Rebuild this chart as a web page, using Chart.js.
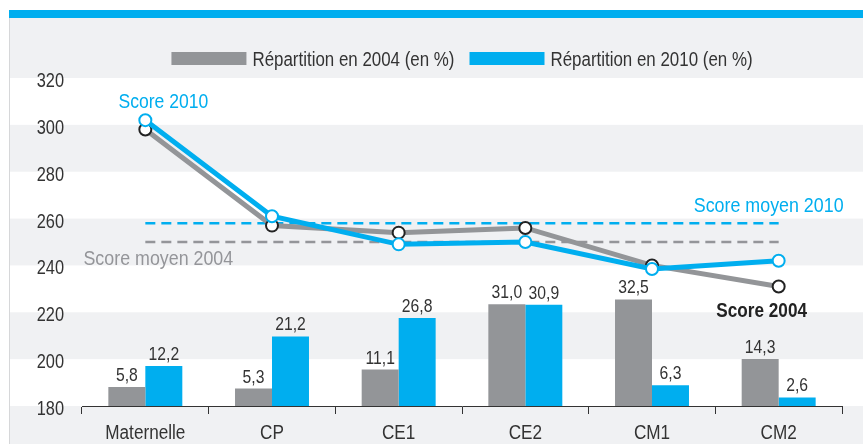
<!DOCTYPE html>
<html>
<head>
<meta charset="utf-8">
<script src="https://cdn.jsdelivr.net/npm/chart.js@4.4.1/dist/chart.umd.min.js"></script>
<style>
html,body{margin:0;padding:0;background:#fff;overflow:hidden;}
canvas{display:block;}
</style>
</head>
<body>
<canvas id="c" width="863" height="444"></canvas>
<script>
const categories = ['Maternelle', 'CP', 'CE1', 'CE2', 'CM1', 'CM2'];
const repartition2004 = [5.8, 5.3, 11.1, 31.0, 32.5, 14.3];
const repartition2010 = [12.2, 21.2, 26.8, 30.9, 6.3, 2.6];
const score2004 = [298, 257, 254, 256, 240, 231];
const score2010 = [302, 261, 249, 250, 238.5, 242];
const scoreMoyen2004 = [250, 250, 250, 250, 250, 250];
const scoreMoyen2010 = [258, 258, 258, 258, 258, 258];
const legendLabels = ['Répartition en 2004 (en %)', 'Répartition en 2010 (en %)'];
const scoreMin = 180, scoreMax = 320, scoreStep = 20;

const FONT = "'Liberation Sans', Arimo, Arial, sans-serif";
const GREY = '#939598';
const BLUE = '#00aeef';
const TEXT = '#333333';

// draw horizontally condensed text (emulates a condensed typeface)
function ctext(ctx, str, x, y, o) {
  ctx.save();
  ctx.font = (o.weight || 'normal') + ' ' + o.size + 'px ' + FONT;
  ctx.fillStyle = o.color || TEXT;
  ctx.textAlign = o.align || 'center';
  ctx.textBaseline = o.baseline || 'alphabetic';
  ctx.translate(x, y);
  ctx.scale(o.sx || 0.86, 1);
  ctx.fillText(str, 0, 0);
  const w = ctx.measureText(str).width * (o.sx || 0.86);
  ctx.restore();
  return w;
}
function cwidth(ctx, str, o) {
  ctx.save();
  ctx.font = (o.weight || 'normal') + ' ' + o.size + 'px ' + FONT;
  const w = ctx.measureText(str).width * (o.sx || 0.86);
  ctx.restore();
  return w;
}

const bgPlugin = {
  id: 'bg',
  beforeDraw(chart) {
    const {ctx, scales: {y}} = chart;
    const W = chart.width, H = chart.height;
    ctx.save();
    ctx.fillStyle = '#ffffff'; ctx.fillRect(0, 0, W, H);
    ctx.fillStyle = '#f0f1f3'; ctx.fillRect(9, 18, W - 9, H - 18);
    ctx.fillStyle = '#d6d7d9'; ctx.fillRect(9, 18, 1, H - 18);
    ctx.fillStyle = BLUE; ctx.fillRect(9, 10, W - 9, 8);
    ctx.fillStyle = '#ffffff';
    for (let v = scoreMax; v > scoreMin; v -= 2 * scoreStep) {
      const t = y.getPixelForValue(v), b = y.getPixelForValue(v - scoreStep);
      ctx.fillRect(10, t, W - 10, b - t);
    }
    ctx.restore();
  }
};

const fmt = v => v.toFixed(1).replace('.', ',');

const labelPlugin = {
  id: 'labels',
  afterDatasetsDraw(chart) {
    const {ctx, scales: {x, y}} = chart;
    // bar value labels
    [0, 1].forEach(di => {
      const meta = chart.getDatasetMeta(di);
      const data = chart.data.datasets[di].data;
      meta.data.forEach((el, i) => {
        ctext(ctx, fmt(data[i]), el.x, el.y - 6, {size: 18.5, sx: 0.85});
      });
    });
    // annotations
    ctext(ctx, 'Score 2010', x.getPixelForValue(0) + 18, y.getPixelForValue(310) + 7, {size: 19.5, sx: 0.9, color: BLUE});
    ctext(ctx, 'Score moyen 2010', x.getPixelForValue(5) - 10, y.getPixelForValue(265.8) + 7, {size: 19.5, sx: 0.915, color: BLUE});
    ctext(ctx, 'Score moyen 2004', x.getPixelForValue(0) + 13, y.getPixelForValue(243.2) + 7, {size: 19.5, sx: 0.915, color: '#949599'});
    ctext(ctx, 'Score 2004', x.getPixelForValue(5) - 17, y.getPixelForValue(221) + 7, {size: 19.5, sx: 0.88, color: '#222222', weight: 'bold'});
  },
  afterDraw(chart) {
    const {ctx, chartArea, scales: {x, y}} = chart;
    // axis tick labels
    y.ticks.forEach(t => {
      ctext(ctx, String(t.value), chartArea.left - 18, y.getPixelForValue(t.value) + 9, {size: 19.5, sx: 0.84, align: 'right'});
    });
    categories.forEach((c, i) => {
      ctext(ctx, c, x.getPixelForValue(i), 439, {size: 19.5, sx: 0.88});
    });
    // legend
    const lo = {size: 19.5, sx: 0.867, align: 'left'};
    const boxW = 75, boxH = 13, gapT = 6, gapI = 15;
    const colors = [GREY, BLUE];
    const widths = legendLabels.map(l => cwidth(ctx, l, lo));
    const total = widths.reduce((a, w) => a + boxW + gapT + w, 0) + gapI;
    let xx = (chartArea.left + chartArea.right) / 2 - total / 2;
    const yc = 58.5;
    legendLabels.forEach((l, i) => {
      ctx.fillStyle = colors[i];
      ctx.fillRect(xx, yc - boxH / 2, boxW, boxH);
      ctext(ctx, l, xx + boxW + gapT, yc + 7, lo);
      xx += boxW + gapT + widths[i] + gapI;
    });
  }
};

new Chart(document.getElementById('c'), {
  type: 'bar',
  data: {
    labels: categories,
    datasets: [
      { type: 'bar', label: legendLabels[0], data: repartition2004, backgroundColor: GREY, yAxisID: 'y2', order: 10, categoryPercentage: 0.584, barPercentage: 1 },
      { type: 'bar', label: legendLabels[1], data: repartition2010, backgroundColor: BLUE, yAxisID: 'y2', order: 10, categoryPercentage: 0.584, barPercentage: 1 },
      { type: 'line', label: 'Score moyen 2004', data: scoreMoyen2004, borderColor: '#949599', borderWidth: 2.5, borderDash: [10, 6], pointRadius: 0, yAxisID: 'y', order: 5, fill: false },
      { type: 'line', label: 'Score moyen 2010', data: scoreMoyen2010, borderColor: BLUE, borderWidth: 2.5, borderDash: [10, 6], pointRadius: 0, yAxisID: 'y', order: 5, fill: false },
      { type: 'line', label: 'Score 2004', data: score2004, borderColor: GREY, borderWidth: 5, pointRadius: 6, pointBorderWidth: 2, pointBorderColor: '#222222', pointBackgroundColor: '#ffffff', yAxisID: 'y', order: 2, fill: false, tension: 0 },
      { type: 'line', label: 'Score 2010', data: score2010, borderColor: BLUE, borderWidth: 5, pointRadius: 6, pointBorderWidth: 2, pointBorderColor: BLUE, pointBackgroundColor: '#ffffff', yAxisID: 'y', order: 1, fill: false, tension: 0 }
    ]
  },
  options: {
    responsive: false,
    devicePixelRatio: 1,
    animation: false,
    events: [],
    layout: { padding: { left: 0, right: 21, top: 78, bottom: 0 } },
    plugins: { legend: { display: false }, tooltip: { enabled: false }, title: { display: false } },
    scales: {
      x: {
        offset: true,
        grid: { display: true, offset: true, drawOnChartArea: false, drawTicks: true, tickLength: 8, color: TEXT, lineWidth: 1 },
        border: { display: true, color: TEXT, width: 1 },
        ticks: { display: false, autoSkip: false },
        afterFit(s) { s.height = 38; }
      },
      y: {
        position: 'left',
        min: scoreMin, max: scoreMax,
        grid: { display: false, drawTicks: false },
        border: { display: false },
        ticks: { display: false, stepSize: scoreStep },
        afterFit(s) { s.width = 82; }
      },
      y2: { display: false, min: 0, max: 100 }
    }
  },
  plugins: [bgPlugin, labelPlugin]
});
</script>
</body>
</html>
